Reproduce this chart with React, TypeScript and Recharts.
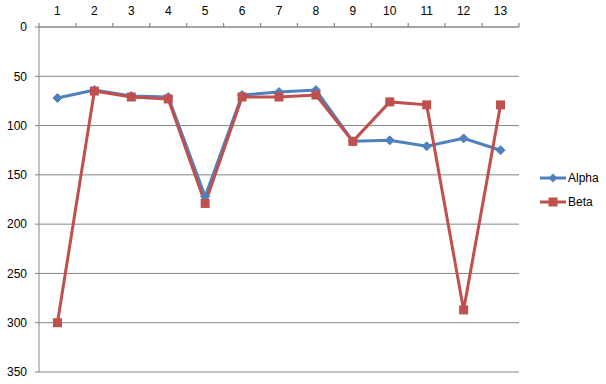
import React from "react";
import { LineChart, Line, XAxis, YAxis, CartesianGrid } from "recharts";

const categories = [1, 2, 3, 4, 5, 6, 7, 8, 9, 10, 11, 12, 13];
const alpha = [72, 64, 70, 71, 172, 69, 66, 64, 116, 115, 121, 113, 125];
const beta = [300, 65, 71, 73, 179, 71, 71, 69, 116, 76, 79, 287, 79];
const yTicks = [0, 50, 100, 150, 200, 250, 300, 350];
// category boundaries (where the tick marks sit)
const boundaries = [0.5, ...categories.map((c) => c + 0.5)];

const BLUE = "#4F81BD";
const RED = "#C0504D";
const GRID = "#868686";
const FONT = "'Liberation Sans', Arial, sans-serif";

const data = categories.map((c, i) => ({ x: c, alpha: alpha[i], beta: beta[i] }));

const CHART_W = 606;
const CHART_H = 384;
const MARGIN = { top: 0, right: 87, bottom: 12, left: 0 };
const Y_AXIS_W = 39;
const PLOT_W = CHART_W - MARGIN.left - MARGIN.right - Y_AXIS_W;

const XTick = (props: any) => {
  const { x, y, payload, index } = props;
  const n = categories.length;
  if (index >= n) return null;
  const half = PLOT_W / n / 2;
  return (
    <text x={Number(x) + half} y={Number(y) - 2} textAnchor="middle" fill="#000" fontSize={12} fontFamily={FONT}>
      {categories[index] ?? payload.value}
    </text>
  );
};

const Diamond = (props: any) => {
  const { cx, cy } = props;
  if (cx == null || cy == null) return null;
  const r = 4.5;
  return (
    <polygon
      points={`${cx},${cy - r} ${cx + r},${cy} ${cx},${cy + r} ${cx - r},${cy}`}
      fill={BLUE}
      stroke={BLUE}
    />
  );
};

const Square = (props: any) => {
  const { cx, cy } = props;
  if (cx == null || cy == null) return null;
  const s = 9;
  return <rect x={cx - s / 2} y={cy - s / 2} width={s} height={s} fill={RED} />;
};

const series = [
  { key: "alpha", name: "Alpha", color: BLUE, dot: Diamond },
  { key: "beta", name: "Beta", color: RED, dot: Square },
];

export default function App() {
  return (
    <div style={{ position: "absolute", left: 0, top: 0, width: CHART_W, height: CHART_H, background: "#fff" }}>
      <LineChart width={CHART_W} height={CHART_H} data={data} margin={MARGIN}>
        <CartesianGrid horizontal vertical={false} stroke={GRID} strokeOpacity={1} />
        <XAxis
          dataKey="x"
          type="number"
          orientation="top"
          domain={[0.5, 13.5]}
          allowDataOverflow
          ticks={boundaries}
          height={27}
          tickSize={4}
          tickMargin={6}
          tickLine={{ stroke: GRID, strokeWidth: 1.2 }}
          axisLine={{ stroke: GRID }}
          tick={<XTick />}
          interval={0}
        />
        <YAxis
          reversed
          domain={[0, 350]}
          allowDataOverflow
          ticks={yTicks}
          width={Y_AXIS_W}
          tickSize={4}
          tickMargin={8}
          axisLine={{ stroke: GRID }}
          tickLine={{ stroke: GRID }}
          tick={{ fill: "#000", fontSize: 12, fontFamily: FONT }}
          interval={0}
        />
        {series.map((s) => {
          const DotC = s.dot;
          return (
            <Line
              key={s.key}
              dataKey={s.key}
              name={s.name}
              stroke={s.color}
              strokeWidth={3}
              type="linear"
              dot={(p: any) => <DotC key={`${s.key}-${p.index}`} {...p} />}
              activeDot={false}
              isAnimationActive={false}
            />
          );
        })}
      </LineChart>
      <div style={{ position: "absolute", left: 538, top: 166, fontFamily: FONT, fontSize: 12 }}>
        {series.map((s, i) => (
          <div key={s.key} style={{ display: "flex", alignItems: "center", height: 24 }}>
            <svg width={30} height={12} style={{ display: "block" }}>
              <line x1={2} x2={28} y1={6} y2={6} stroke={s.color} strokeWidth={3} />
              {i === 0 ? (
                <polygon points="15,1.5 19.5,6 15,10.5 10.5,6" fill={s.color} />
              ) : (
                <rect x={10.5} y={1.5} width={9} height={9} fill={s.color} />
              )}
            </svg>
            <span style={{ color: "#000" }}>{s.name}</span>
          </div>
        ))}
      </div>
    </div>
  );
}
